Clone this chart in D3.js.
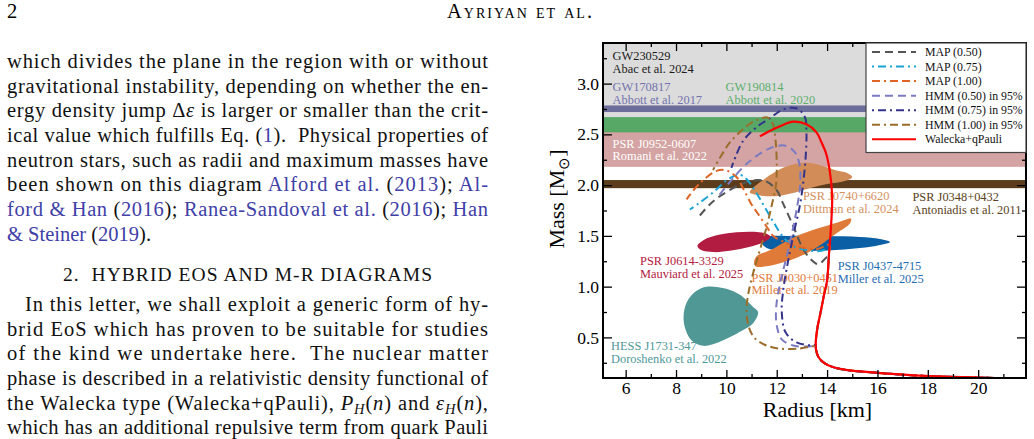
<!DOCTYPE html>
<html>
<head>
<meta charset="utf-8">
<script src="https://cdn.jsdelivr.net/npm/d3@7"></script>
<style>
  body { margin: 0; background: #fff; }
  svg { display: block; font-family: "Liberation Serif", "Times New Roman", serif; }
  svg text { white-space: pre; font-family: "Liberation Serif", "Times New Roman", serif !important; }
</style>
</head>
<body>
<div id="page"></div>
<script>
// ---------- chart data (radius in km, mass in solar masses) ----------
const xTicks = [6, 8, 10, 12, 14, 16, 18, 20];
const xMinor = [7, 9, 11, 13, 15, 17, 19, 21];
const yTicks = [0.5, 1.0, 1.5, 2.0, 2.5, 3.0];
const yMinor = [0.25, 0.75, 1.25, 1.75, 2.25, 2.75, 3.25];

// horizontal mass constraints
const bandNames = ["GW230529", "GW190814", "PSR J0952-0607", "GW170817", "PSR J0348+0432"];
const bandLo = [2.5, 2.50, 2.18, 2.72, 1.97];
const bandHi = [4.5, 2.67, 2.52, 2.785, 2.05];

// NICER / HESS contours, outline points [R, M]
const j0740 = [[10.93,1.93],[11.4,2.04],[12.0,2.14],[12.6,2.20],[13.2,2.22],[13.8,2.19],[14.3,2.15],[14.8,2.12],[15.0,2.08],[14.7,2.04],[14.0,2.01],[13.3,1.97],[12.6,1.92],[11.9,1.89],[11.3,1.90]];
const j0437 = [[11.4,1.44],[11.6,1.49],[12.5,1.50],[14.0,1.50],[15.3,1.49],[16.1,1.47],[16.5,1.44],[16.1,1.41],[15.3,1.38],[14.0,1.355],[12.5,1.355],[11.6,1.38]];
const j0614 = [[8.85,1.40],[9.1,1.46],[9.7,1.51],[10.4,1.535],[11.1,1.54],[11.6,1.52],[11.75,1.49],[11.5,1.44],[10.9,1.39],[10.2,1.355],[9.5,1.34],[9.0,1.36]];
const j0030 = [[11.1,1.24],[11.2,1.30],[11.75,1.36],[12.25,1.43],[12.9,1.51],[13.85,1.59],[14.5,1.64],[14.95,1.67],[14.9,1.62],[14.4,1.53],[13.85,1.43],[13.2,1.33],[12.4,1.25],[11.6,1.20],[11.15,1.20]];
const hess = [[9.21,1.0],[10.0,0.98],[10.54,0.92],[11.06,0.80],[11.26,0.75],[11.06,0.64],[10.54,0.555],[9.74,0.457],[9.08,0.417],[8.62,0.47],[8.35,0.60],[8.31,0.74],[8.48,0.87],[8.82,0.96]];

// Walecka+qPauli hadronic sequence
const walecka = [[20.65,0.10],[17.9,0.12],[15.8,0.155],[14.75,0.18],[14.2,0.21],[13.85,0.255],[13.65,0.31],[13.56,0.38],[13.55,0.45],[13.62,0.60],[13.72,0.72],[13.88,0.92],[14.0,1.06],[14.07,1.30],[14.13,1.50],[14.18,1.70],[14.2,1.90],[14.1,2.15],[13.95,2.32],[13.78,2.42],[13.58,2.52],[13.18,2.60],[12.65,2.625],[12.13,2.58],[11.7,2.53],[11.33,2.48]];

// hybrid branches, starting where they leave the hadronic curve
const map050 = [[14.07,1.31],[13.9,1.27],[13.65,1.22],[13.35,1.27],[13.05,1.37],[12.65,1.60],[12.25,1.82],[12.0,1.95],[11.6,2.035],[11.2,2.05],[10.6,2.01],[9.74,1.89],[9.3,1.80],[8.88,1.68]];
const map075 = [[14.08,1.37],[13.71,1.35],[13.18,1.36],[12.65,1.40],[12.25,1.49],[11.86,1.64],[11.46,1.81],[11.1,1.96],[10.8,2.06],[10.55,2.10],[10.14,2.07],[9.48,1.93],[8.9,1.82],[8.55,1.76]];
const map100 = [[14.09,1.41],[13.6,1.37],[12.9,1.39],[12.3,1.44],[11.86,1.50],[11.6,1.59],[11.25,1.72],[11.0,1.81],[10.7,1.95],[10.4,2.08],[10.0,2.145],[9.61,2.14],[8.95,2.02],[8.42,1.86]];
const hmm050 = [[13.55,0.41],[13.2,0.41],[12.65,0.42],[12.2,0.48],[12.0,0.62],[11.98,0.80],[12.15,1.05],[12.4,1.30],[12.65,1.58],[12.82,1.80],[12.93,2.0],[12.9,2.21],[12.7,2.33],[12.3,2.39],[11.7,2.36],[10.9,2.23],[10.2,2.05],[9.65,1.88]];
const hmm075 = [[13.55,0.42],[13.38,0.42],[12.79,0.45],[12.35,0.55],[12.2,0.75],[12.25,0.95],[12.45,1.25],[12.7,1.55],[12.92,1.80],[13.05,2.02],[13.15,2.28],[13.18,2.52],[13.12,2.67],[12.8,2.755],[12.3,2.75],[11.73,2.66],[11.2,2.57],[10.65,2.43],[10.2,2.17]];
const hmm100 = [[13.5,0.41],[12.9,0.39],[12.1,0.39],[11.5,0.43],[11.1,0.50],[10.87,0.62],[10.8,0.77],[10.87,0.93],[11.06,1.13],[11.33,1.36],[11.6,1.59],[11.8,1.80],[11.97,2.0],[12.0,2.2],[11.95,2.45],[11.85,2.6],[11.65,2.665],[11.2,2.64],[10.8,2.58],[10.14,2.42],[9.7,2.25],[9.47,2.15]];

const curveNames = ["MAP (0.50)", "MAP (0.75)", "MAP (1.00)", "HMM (0.50) in 95%", "HMM (0.75) in 95%", "HMM (1.00) in 95%", "Walecka+qPauli"];

// ---------- page ----------
const W = 1034, H = 439;
const citeBlue = "#4040a8";

const svg = d3.select("#page").append("svg").attr("width", W).attr("height", H);
svg.append("rect").attr("width", W).attr("height", H).attr("fill", "#fff");

// running head
svg.append("text").attr("x", 7).attr("y", 18).attr("font-size", 20.5).text("2");
svg.append("text").attr("x", 447).attr("y", 18)
  .attr("font-size", 20.5).style("font-variant", "small-caps")
  .attr("textLength", 145).attr("lengthAdjust", "spacing").text("Ayriyan et al.");

// left column text: [segments, x, baseline, justified]
const bodyLines = [
  [[["which divides the plane in the region with or without"]], 7, 68, true],
  [[["gravitational instability, depending on whether the en-"]], 7, 92.7, true],
  [[["ergy density jump Δ"], ["ε", "i"], [" is larger or smaller than the crit-"]], 7, 117.3, true],
  [[["ical value which fulfills Eq. ("], ["1", "c"], [").  Physical properties of"]], 7, 142, true],
  [[["neutron stars, such as radii and maximum masses have"]], 7, 166.6, true],
  [[["been shown on this diagram "], ["Alford et al.", "c"], [" ("], ["2013", "c"], ["); "], ["Al-", "c"]], 7, 191.3, true],
  [[["ford & Han", "c"], [" ("], ["2016", "c"], ["); "], ["Ranea-Sandoval et al.", "c"], [" ("], ["2016", "c"], ["); "], ["Han", "c"]], 7, 216, true],
  [[["& Steiner", "c"], [" ("], ["2019", "c"], [")."]], 7, 240.6, false],
  [[["In this letter, we shall exploit a generic form of hy-"]], 25, 311, true],
  [[["brid EoS which has proven to be suitable for studies"]], 7, 335.6, true],
  [[["of the kind we undertake here.  The nuclear matter"]], 7, 360.3, true],
  [[["phase is described in a relativistic density functional of"]], 7, 385, true],
  [[["the Walecka type (Walecka+qPauli), "], ["P", "i"], ["H", "s"], ["("], ["n", "i"], [") and "], ["ε", "i"], ["H", "s"], ["("], ["n", "i"], ["),"]], 7, 409.6, true],
  [[["which has an additional repulsive term from quark Pauli"]], 7, 434.3, true]
];

bodyLines.forEach(([segs, lx, ly, just]) => {
  const t = svg.append("text").attr("x", lx).attr("y", ly)
    .attr("font-size", 20.5).attr("fill", "#111");
  if (just) t.attr("textLength", 488 - lx).attr("lengthAdjust", "spacing");
  segs.forEach(([s, k]) => {
    const sp = t.append("tspan").text(s);
    if (k === "c") sp.attr("fill", citeBlue);
    if (k === "i") sp.attr("font-style", "italic");
    if (k === "s") sp.attr("font-style", "italic").attr("font-size", 14.5).attr("baseline-shift", "-4");
  });
});

svg.append("text").attr("x", 63).attr("y", 281)
  .attr("font-size", 19.5).attr("fill", "#111")
  .attr("textLength", 369).attr("lengthAdjust", "spacing")
  .text("2.  HYBRID EOS AND M-R DIAGRAMS");

// ---------- chart ----------
const plot = {left: 603, top: 43, right: 1026, bottom: 378};
const x = d3.scaleLinear().domain([5.1, 21.9]).range([plot.left, plot.right]);
const y = d3.scaleLinear().domain([0.1, 3.4]).range([plot.bottom, plot.top]);

svg.append("clipPath").attr("id", "clip").append("rect")
  .attr("x", plot.left).attr("y", plot.top)
  .attr("width", plot.right - plot.left).attr("height", plot.bottom - plot.top);
const g = svg.append("g").attr("clip-path", "url(#clip)");

// bands
const bandColors = ["#dcdcdc", "#57a866", "#d4a3a3", "#6d6d9c", "#5b3c1c"];
g.selectAll("rect.band").data(bandNames).enter().append("rect")
  .attr("class", "band")
  .attr("x", plot.left).attr("width", plot.right - plot.left)
  .attr("y", (d, i) => y(bandHi[i]))
  .attr("height", (d, i) => y(bandLo[i]) - y(bandHi[i]))
  .attr("fill", (d, i) => bandColors[i]);

// contours
const blobLine = d3.line().x(d => x(d[0])).y(d => y(d[1])).curve(d3.curveCatmullRomClosed.alpha(0.5));
const blobs = [j0740, j0437, j0614, j0030, hess];
const blobColors = ["#d18c58", "#0b5fa5", "#b21c40", "#e07a38", "#4f9896"];
g.selectAll("path.blob").data(blobs).enter().append("path")
  .attr("class", "blob")
  .attr("d", blobLine)
  .attr("fill", (d, i) => blobColors[i]);

// annotation labels [line1, line2, R, M, colour]
const labels = [
  ["GW230529", "Abac et al. 2024", 5.48, 3.23, "#1a1a1a"],
  ["GW170817", "Abbott et al. 2017", 5.48, 2.93, "#7373ad"],
  ["GW190814", "Abbott et al. 2020", 9.97, 2.93, "#5cae6c"],
  ["PSR J0952-0607", "Romani et al. 2022", 5.48, 2.37, "#ffffff"],
  ["PSR J0740+6620", "Dittman et al. 2024", 13.04, 1.85, "#d4915e"],
  ["PSR J0348+0432", "Antoniadis et al. 2011", 17.39, 1.845, "#5a3f22"],
  ["PSR J0614-3329", "Mauviard et al. 2025", 6.57, 1.21, "#b3203e"],
  ["PSR J0030+0451", "Miller et al. 2019", 11.0, 1.05, "#e27b3b"],
  ["PSR J0437-4715", "Miller et al. 2025", 14.42, 1.165, "#1f6eb1"],
  ["HESS J1731-347", "Doroshenko et al. 2022", 5.42, 0.375, "#4f9896"]
];
labels.forEach(([a, b, r, m, c]) => {
  const t = g.append("text").attr("font-size", 12.4).attr("fill", c);
  t.append("tspan").attr("x", x(r)).attr("y", y(m)).text(a);
  t.append("tspan").attr("x", x(r)).attr("y", y(m) + 12.8).text(b);
});

// M-R curves: hybrid branches join the hadronic sequence below their onset mass
function hadronicBelow(m) {
  const out = [];
  for (const p of walecka) { if (p[1] >= m) break; out.push(p); }
  return out;
}
const branches = [map050, map075, map100, hmm050, hmm075, hmm100];
const curves = branches.map(b => hadronicBelow(b[0][1]).concat(b)).concat([walecka]);
const curveColors = ["#555555", "#1ba3d3", "#df6526", "#7b7bc2", "#33338c", "#9b6d2a", "#ff0000"];
const curveDash = ["8,5", "2,4,8,4", "8,4,2,4,8,4", "8,5", "2,4,8,4", "8,4,2,4,8,4", null];
const curveLine = d3.line().x(d => x(d[0])).y(d => y(d[1])).curve(d3.curveCatmullRom.alpha(0.5));

g.selectAll("path.curve").data(curves).enter().append("path")
  .attr("class", "curve")
  .attr("d", curveLine)
  .attr("fill", "none")
  .attr("stroke", (d, i) => curveColors[i])
  .attr("stroke-width", (d, i) => i === 6 ? 2.2 : 2)
  .attr("stroke-dasharray", (d, i) => curveDash[i]);

// axes with inward ticks on all four sides
const tickFont = sel => sel.selectAll("text").attr("font-size", 17.5).attr("fill", "#000");
const styleAxis = sel => { sel.select(".domain").remove(); sel.selectAll("line").attr("stroke", "#000").attr("stroke-width", 1.3); };

svg.append("g").attr("transform", `translate(0,${plot.bottom})`)
  .call(d3.axisBottom(x).tickValues(xTicks).tickSize(-8).tickPadding(4).tickFormat(d3.format("d")))
  .call(styleAxis).call(tickFont);
svg.append("g").attr("transform", `translate(0,${plot.bottom})`)
  .call(d3.axisBottom(x).tickValues(xMinor).tickSize(-4).tickFormat("")).call(styleAxis);
svg.append("g").attr("transform", `translate(0,${plot.top})`)
  .call(d3.axisTop(x).tickValues(xTicks).tickSize(-8).tickFormat("")).call(styleAxis);
svg.append("g").attr("transform", `translate(0,${plot.top})`)
  .call(d3.axisTop(x).tickValues(xMinor).tickSize(-4).tickFormat("")).call(styleAxis);

svg.append("g").attr("transform", `translate(${plot.left},0)`)
  .call(d3.axisLeft(y).tickValues(yTicks).tickSize(-9).tickPadding(4).tickFormat(d3.format(".1f")))
  .call(styleAxis).call(tickFont);
svg.append("g").attr("transform", `translate(${plot.left},0)`)
  .call(d3.axisLeft(y).tickValues(yMinor).tickSize(-4).tickFormat("")).call(styleAxis);
svg.append("g").attr("transform", `translate(${plot.right},0)`)
  .call(d3.axisRight(y).tickValues(yTicks).tickSize(-9).tickFormat("")).call(styleAxis);
svg.append("g").attr("transform", `translate(${plot.right},0)`)
  .call(d3.axisRight(y).tickValues(yMinor).tickSize(-4).tickFormat("")).call(styleAxis);

svg.append("rect")
  .attr("x", plot.left).attr("y", plot.top)
  .attr("width", plot.right - plot.left).attr("height", plot.bottom - plot.top)
  .attr("fill", "none").attr("stroke", "#000").attr("stroke-width", 2);

// axis titles
svg.append("text").attr("x", (plot.left + plot.right) / 2 + 3).attr("y", 417)
  .attr("text-anchor", "middle").attr("font-size", 22)
  .text("Radius [km]");
const yt = svg.append("text").attr("transform", "translate(564,199) rotate(-90)")
  .attr("text-anchor", "middle").attr("font-size", 22);
yt.append("tspan").text("Mass [M");
yt.append("tspan").attr("font-size", 15).attr("baseline-shift", "-5").text("⊙");
yt.append("tspan").text("]");

// legend
const legend = svg.append("g");
legend.append("rect").attr("x", 866).attr("y", 43).attr("width", 160).attr("height", 109.5)
  .attr("fill", "#fff").attr("stroke", "#444").attr("stroke-width", 1.2);
const rows = legend.selectAll("g.row").data(curveNames).enter().append("g")
  .attr("class", "row")
  .attr("transform", (d, i) => `translate(0,${56 + i * 14.55})`);
rows.append("line").attr("x1", 872).attr("x2", 916).attr("y1", -4).attr("y2", -4)
  .attr("stroke", (d, i) => curveColors[i]).attr("stroke-width", 2)
  .attr("stroke-dasharray", (d, i) => curveDash[i]);
rows.append("text").attr("x", 925).attr("y", 0)
  .attr("font-size", 11.8).attr("fill", "#111")
  .text(d => d);
</script>
</body>
</html>
